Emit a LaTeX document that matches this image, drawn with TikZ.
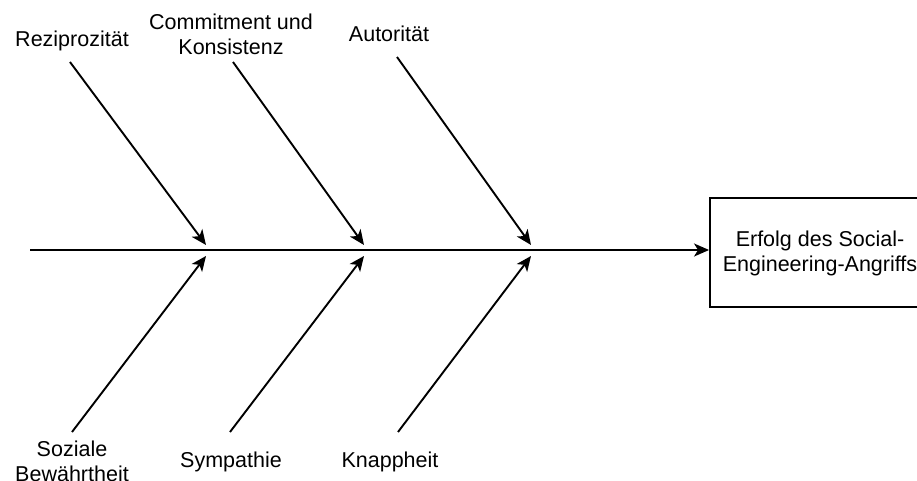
\documentclass[tikz,border=0pt]{standalone}
\usepackage{fontspec}
\setmainfont{Liberation Sans}
\usetikzlibrary{arrows.meta}
\begin{document}
\begin{tikzpicture}[x=1pt,y=-1pt,
  bone/.style={line width=1.9pt,-{Stealth[length=15pt,width=13pt,inset=4pt]}},
  lbl/.style={align=center,inner sep=0pt,font=\fontsize{21.5}{25}\selectfont},
  effect/.style={draw,line width=1.9pt,minimum width=224pt,minimum height=109pt,inner sep=0pt}]
  \useasboundingbox (0,0) rectangle (917,481);
  \clip (0,0) rectangle (917,481);
  \fill[white] (0,0) rectangle (917,481);

  % effect box
  \node[effect] (eff) at (822,252.5) {};
  \node[lbl] (efftext) at (820,253) {Erfolg des Social-\\Engineering-Angriffs};

  % spine
  \coordinate (tail) at (30,250);
  \draw[bone] (tail) -- (tail -| eff.west);

  % end points of the bones on the spine
  \coordinate (t1) at (206,245); \coordinate (b1) at (206,256);
  \coordinate (t2) at (364,245); \coordinate (b2) at (364,256);
  \coordinate (t3) at (531,245); \coordinate (b3) at (531,256);

  % free ends of the bones
  \coordinate (s1) at (70,62);  \coordinate (u1) at (72,432);
  \coordinate (s2) at (233,62); \coordinate (u2) at (230,432);
  \coordinate (s3) at (397,57); \coordinate (u3) at (398,432);

  \draw[bone] (s1) -- (t1);
  \draw[bone] (s2) -- (t2);
  \draw[bone] (s3) -- (t3);
  \draw[bone] (u1) -- (b1);
  \draw[bone] (u2) -- (b2);
  \draw[bone] (u3) -- (b3);

  % cause labels
  \node[lbl] (c1) at (72,41) {Reziprozität};
  \node[lbl] (c2) at (231,34) {Commitment und\\Konsistenz};
  \node[lbl] (c3) at (389,34) {Autorität};
  \node[lbl] (c4) at (72,461) {Soziale\\Bewährtheit};
  \node[lbl] (c5) at (231,462) {Sympathie};
  \node[lbl] (c6) at (390,462) {Knappheit};
\end{tikzpicture}
\end{document}
